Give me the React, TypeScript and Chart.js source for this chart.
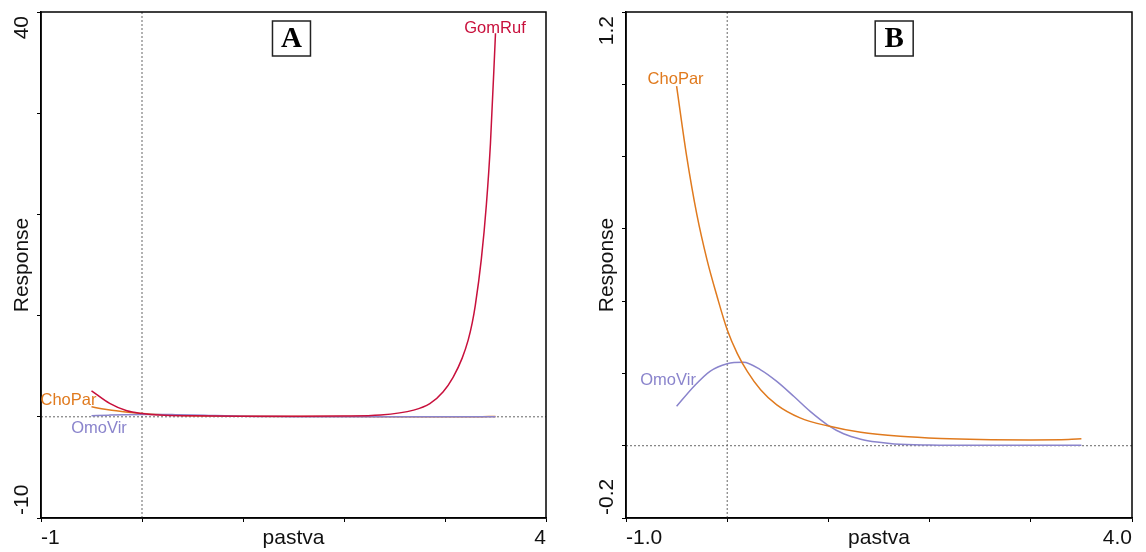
import React, { useEffect, useRef } from 'react';
import { Chart, registerables } from 'chart.js';

Chart.register(...registerables);

// ---- axes ----
const xRange = [-1, 4];
const xStep = 1;
const yRangeA = [-10, 40];
const yStepA = 10;
const yRangeB = [-0.2, 1.2];
const yStepB = 0.2;
const xTickLabelsA = ['-1', '4'];
const yTickLabelsA = ['-10', '40'];
const xTickLabelsB = ['-1.0', '4.0'];
const yTickLabelsB = ['-0.2', '1.2'];
const xTitle = 'pastva';
const yTitle = 'Response';
const panelLetters = ['A', 'B'];

// ---- series ----
const gomRufX = [-0.5, -0.32, -0.15, 0, 0.18, 0.5, 1.0, 1.5, 2.0, 2.36, 2.69, 2.85, 2.98, 3.08, 3.17, 3.23, 3.27, 3.3, 3.36, 3.41, 3.45, 3.5];
const gomRufY = [2.57, 1.32, 0.59, 0.33, 0.17, 0.1, 0.06, 0.05, 0.07, 0.17, 0.66, 1.3, 2.45, 3.9, 5.8, 7.6, 9.3, 11.0, 15.6, 21.0, 27.0, 37.9];

const choParX = [-0.5, -0.4, -0.3, -0.2, -0.1, 0, 0.1, 0.2, 0.33, 0.49, 0.72, 0.99, 1.32, 1.71, 2.11, 2.5, 3.0, 3.37, 3.5];
const choParY = [0.995, 0.8, 0.64, 0.515, 0.413, 0.321, 0.255, 0.205, 0.155, 0.113, 0.077, 0.055, 0.037, 0.026, 0.02, 0.017, 0.016, 0.017, 0.019];

const omoVirX = [-0.5, -0.33, -0.17, 0, 0.16, 0.33, 0.49, 0.66, 0.82, 0.99, 1.15, 1.32, 1.48, 1.65, 2.0, 2.5, 3.0, 3.5];
const omoVirY = [0.109, 0.164, 0.206, 0.227, 0.231, 0.21, 0.178, 0.136, 0.095, 0.058, 0.033, 0.018, 0.01, 0.005, 0.002, 0.001, 0.001, 0.001];

const seriesNames = ['GomRuf', 'ChoPar', 'OmoVir'];
const seriesColors = ['#C8103C', '#E07A1E', '#8A84CC'];

// curve label anchors (data units, text centre)
const labelsA = [
  { name: 'GomRuf', x: 3.495, y: 38.4 },
  { name: 'ChoPar', x: -0.728, y: 1.65 },
  { name: 'OmoVir', x: -0.426, y: -1.2 },
];
const labelsB = [
  { name: 'ChoPar', x: -0.51, y: 1.013 },
  { name: 'OmoVir', x: -0.584, y: 0.18 },
];
const letterXA = 1.48;
const letterXB = 1.65;

const AXIS_FONT = '21px "Liberation Sans", Arial, sans-serif';
const LABEL_FONT = '16.5px "Liberation Sans", Arial, sans-serif';
const LETTER_FONT = 'bold 29px "Liberation Serif", "Times New Roman", serif';

function pts(xs: number[], ys: number[]) {
  return xs.map((x, i) => ({ x, y: ys[i] }));
}

const textPlugin = {
  id: 'panelText',
  afterDraw(chart: any, _args: any, opts: any) {
    const { ctx, chartArea: ca, scales } = chart;
    const xs = scales.x;
    const ys = scales.y;
    ctx.save();
    // frame
    ctx.strokeStyle = '#000';
    ctx.lineWidth = 1.5;
    ctx.strokeRect(ca.left, ca.top, ca.right - ca.left, ca.bottom - ca.top);

    // x tick labels + title
    ctx.fillStyle = '#111';
    ctx.font = AXIS_FONT;
    ctx.textBaseline = 'middle';
    const xLabY = ca.bottom + 20;
    ctx.textAlign = 'left';
    ctx.fillText(opts.xTicks[0], ca.left, xLabY);
    ctx.textAlign = 'right';
    ctx.fillText(opts.xTicks[1], ca.right, xLabY);
    ctx.textAlign = 'center';
    ctx.fillText(opts.xTitle, (ca.left + ca.right) / 2, xLabY);

    // y tick labels + title (rotated)
    const yLabX = ca.left - 19;
    const drawRot = (t: string, y: number, align: CanvasTextAlign) => {
      ctx.save();
      ctx.translate(yLabX, y);
      ctx.rotate(-Math.PI / 2);
      ctx.textAlign = align;
      ctx.textBaseline = 'middle';
      ctx.fillText(t, 0, 0);
      ctx.restore();
    };
    drawRot(opts.yTicks[1], ca.top + 4, 'right');
    drawRot(opts.yTicks[0], ca.bottom - 3, 'left');
    drawRot(opts.yTitle, (ca.top + ca.bottom) / 2, 'center');

    // curve labels
    ctx.font = LABEL_FONT;
    ctx.textAlign = 'center';
    ctx.textBaseline = 'middle';
    for (const l of opts.labels) {
      const idx = seriesNames.indexOf(l.name);
      ctx.fillStyle = seriesColors[idx];
      ctx.fillText(l.name, xs.getPixelForValue(l.x), ys.getPixelForValue(l.y));
    }

    // panel letter box
    const cx = xs.getPixelForValue(opts.letterX);
    const bw = 38;
    const bh = 35;
    const by = ca.top + 9;
    ctx.fillStyle = '#fff';
    ctx.fillRect(cx - bw / 2, by, bw, bh);
    ctx.strokeStyle = '#222';
    ctx.lineWidth = 1.5;
    ctx.strokeRect(cx - bw / 2, by, bw, bh);
    ctx.fillStyle = '#000';
    ctx.font = LETTER_FONT;
    ctx.textAlign = 'center';
    ctx.textBaseline = 'alphabetic';
    ctx.fillText(opts.letter, cx, ca.top + 35);
    ctx.restore();
  },
};

function curve(name: string, xs: number[], ys: number[]) {
  const idx = seriesNames.indexOf(name);
  return {
    label: name,
    data: pts(xs, ys),
    borderColor: seriesColors[idx],
    backgroundColor: seriesColors[idx],
    borderWidth: 1.5,
    pointRadius: 0,
    cubicInterpolationMode: 'monotone' as const,
    fill: false,
  };
}

function refLine(data: { x: number; y: number }[]) {
  return {
    label: 'ref',
    data,
    borderColor: '#666',
    borderWidth: 1,
    borderDash: [2, 2],
    pointRadius: 0,
    fill: false,
  };
}

function makeConfig(p: {
  datasets: any[];
  yRange: number[];
  yStep: number;
  yWidth: number;
  padRight: number;
  xTicks: string[];
  yTicks: string[];
  labels: any[];
  letter: string;
  letterX: number;
}): any {
  const axisCommon = {
    grid: { display: true, drawOnChartArea: false, drawTicks: true, tickLength: 4, color: '#000', lineWidth: 1 },
    border: { display: true, color: '#000', width: 1.5 },
  };
  return {
    type: 'line',
    data: {
      datasets: [
        ...p.datasets,
        refLine([{ x: 0, y: p.yRange[0] }, { x: 0, y: p.yRange[1] }]),
        refLine([{ x: xRange[0], y: 0 }, { x: xRange[1], y: 0 }]),
      ],
    },
    options: {
      animation: false,
      responsive: false,
      devicePixelRatio: 1,
      layout: { padding: { left: 0, top: 12, right: p.padRight, bottom: 0 } },
      plugins: {
        legend: { display: false },
        tooltip: { enabled: false },
        panelText: {
          xTicks: p.xTicks,
          yTicks: p.yTicks,
          xTitle,
          yTitle,
          labels: p.labels,
          letter: p.letter,
          letterX: p.letterX,
        },
      },
      scales: {
        x: {
          type: 'linear',
          min: xRange[0],
          max: xRange[1],
          ticks: { display: false, stepSize: xStep },
          ...axisCommon,
          afterFit: (s: any) => {
            s.height = 34;
          },
        },
        y: {
          type: 'linear',
          min: p.yRange[0],
          max: p.yRange[1],
          ticks: { display: false, stepSize: p.yStep },
          ...axisCommon,
          afterFit: (s: any) => {
            s.width = p.yWidth;
          },
        },
      },
    },
    plugins: [textPlugin],
  };
}

export default function App() {
  const refA = useRef<HTMLCanvasElement>(null);
  const refB = useRef<HTMLCanvasElement>(null);

  useEffect(() => {
    const a = new Chart(
      refA.current as HTMLCanvasElement,
      makeConfig({
        datasets: [
          curve('GomRuf', gomRufX, gomRufY),
          curve('OmoVir', omoVirX, omoVirY),
          curve('ChoPar', choParX, choParY),
        ],
        yRange: yRangeA,
        yStep: yStepA,
        yWidth: 41,
        padRight: 27,
        xTicks: xTickLabelsA,
        yTicks: yTickLabelsA,
        labels: labelsA,
        letter: panelLetters[0],
        letterX: letterXA,
      })
    );
    const b = new Chart(
      refB.current as HTMLCanvasElement,
      makeConfig({
        datasets: [curve('ChoPar', choParX, choParY), curve('OmoVir', omoVirX, omoVirY)],
        yRange: yRangeB,
        yStep: yStepB,
        yWidth: 53,
        padRight: 14,
        xTicks: xTickLabelsB,
        yTicks: yTickLabelsB,
        labels: labelsB,
        letter: panelLetters[1],
        letterX: letterXB,
      })
    );
    return () => {
      a.destroy();
      b.destroy();
    };
  }, []);

  return (
    <div style={{ position: 'fixed', left: 0, top: 0, width: 1146, height: 552, background: '#fff' }}>
      <canvas
        ref={refA}
        width={573}
        height={552}
        style={{ position: 'absolute', left: 0, top: 0, width: 573, height: 552 }}
      />
      <canvas
        ref={refB}
        width={573}
        height={552}
        style={{ position: 'absolute', left: 573, top: 0, width: 573, height: 552 }}
      />
    </div>
  );
}
